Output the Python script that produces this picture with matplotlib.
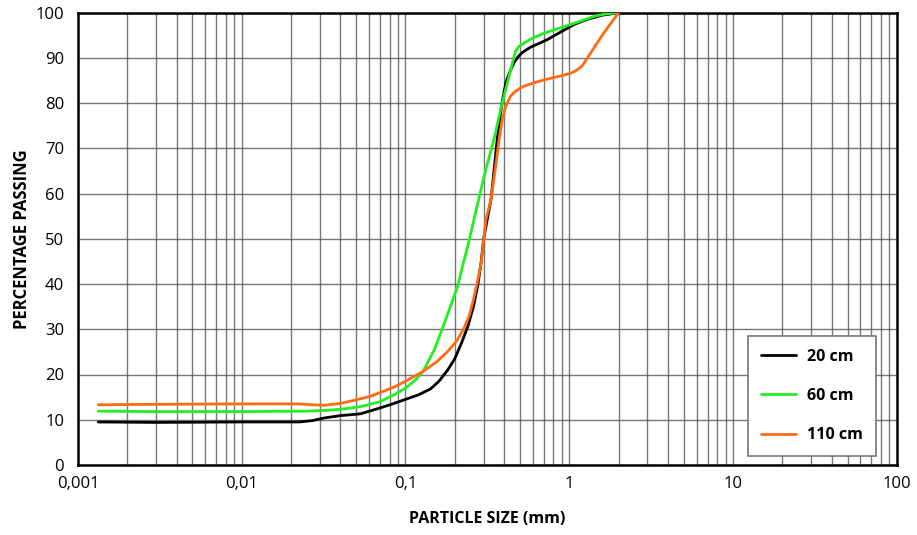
import matplotlib
matplotlib.use("Agg")
import matplotlib.pyplot as plt
from matplotlib.ticker import FixedLocator, FixedFormatter, LogLocator, NullFormatter

plt.rcParams['font.family'] = ['Open Sans', 'DejaVu Sans']

# 20 cm (black)
x20 = [0.00133, 0.003, 0.01, 0.0225, 0.027, 0.032, 0.04, 0.053, 0.07, 0.085, 0.1, 0.12,
       0.142, 0.16, 0.181, 0.2, 0.22, 0.24, 0.26, 0.277, 0.29, 0.30, 0.333, 0.367,
       0.39, 0.411, 0.44, 0.46, 0.49, 0.52, 0.58, 0.66, 0.745, 0.9, 1.08, 1.3, 1.6, 2.0]
y20 = [9.5, 9.4, 9.5, 9.5, 9.8, 10.4, 10.9, 11.3, 12.6, 13.6, 14.5, 15.5,
       16.8, 18.5, 21.0, 23.5, 27.0, 30.6, 35.0, 40.0, 45.0, 50.0, 58.8, 73.6,
       80.5, 84.7, 87.5, 89.0, 90.4, 91.3, 92.4, 93.3, 94.2, 95.9, 97.5, 98.6, 99.5, 100.0]

# 60 cm (green)
x60 = [0.00133, 0.003, 0.01, 0.025, 0.034, 0.045, 0.055, 0.07, 0.085, 0.1, 0.115, 0.128,
       0.15, 0.17, 0.19, 0.208, 0.225, 0.243, 0.26, 0.28, 0.31, 0.347, 0.38, 0.42,
       0.45, 0.47, 0.49, 0.53, 0.58, 0.7, 0.94, 1.2, 1.44, 1.7, 2.0]
y60 = [11.9, 11.8, 11.8, 11.9, 12.1, 12.5, 13.0, 14.0, 15.5, 17.0, 18.8, 20.7,
       25.5, 30.7, 35.5, 39.5, 44.5, 49.2, 53.8, 58.8, 65.5, 72.0, 78.5, 84.7,
       89.0, 91.5, 92.5, 93.3, 94.2, 95.5, 97.0, 98.3, 99.3, 99.8, 100.0]

# 110 cm (orange)
x110 = [0.00133, 0.003, 0.01, 0.022, 0.027, 0.032, 0.04, 0.05, 0.06, 0.07, 0.085, 0.1,
        0.128, 0.155, 0.181, 0.205, 0.226, 0.245, 0.26, 0.275, 0.29, 0.31, 0.333, 0.355,
        0.373, 0.39, 0.41, 0.435, 0.46, 0.5, 0.53, 0.63, 0.745, 0.9, 1.03, 1.12, 1.2,
        1.3, 1.44, 1.6, 1.82, 2.0]
y110 = [13.3, 13.4, 13.5, 13.5, 13.3, 13.2, 13.6, 14.4, 15.1, 16.0, 17.2, 18.5,
        20.7, 22.8, 25.1, 27.4, 30.0, 33.0, 36.6, 40.5, 44.8, 54.3, 58.8, 66.0,
        72.0, 76.5, 79.4, 81.4, 82.4, 83.3, 83.8, 84.7, 85.4, 86.1, 86.7, 87.4, 88.3,
        90.2, 92.7, 95.2, 98.0, 100.0]

series = [("20 cm", x20, y20, "#000000"),
          ("60 cm", x60, y60, "#22ee22"),
          ("110 cm", x110, y110, "#ff6a13")]

xticks = [0.001, 0.01, 0.1, 1, 10, 100]
xticklabels = ["0,001", "0,01", "0,1", "1", "10", "100"]
yticks = list(range(0, 101, 10))

fig = plt.figure(figsize=(9.17, 5.35), dpi=100)
ax = fig.add_axes([0.085, 0.131, 0.893, 0.845])

for label, xs, ys, c in series:
    ax.plot(xs, ys, color=c, lw=2.0, label=label, solid_capstyle='round',
            solid_joinstyle='round', zorder=3)

ax.set_xscale('log')
ax.set_xlim(0.001, 100)
ax.set_ylim(0, 100)
ax.xaxis.set_major_locator(FixedLocator(xticks))
ax.xaxis.set_major_formatter(FixedFormatter(xticklabels))
ax.xaxis.set_minor_locator(LogLocator(base=10, subs=range(2, 10), numticks=50))
ax.xaxis.set_minor_formatter(NullFormatter())
ax.set_yticks(yticks)

ax.grid(True, which='major', axis='both', color='#555555', lw=1.0, alpha=0.8)
ax.grid(True, which='minor', axis='x', color='#555555', lw=1.0, alpha=0.8)
ax.set_axisbelow(True)

ax.tick_params(axis='both', which='both', length=0, labelsize=12, pad=8)
ax.tick_params(axis='y', pad=10)

for s in ax.spines.values():
    s.set_color('#000000')
    s.set_linewidth(1.8)

ax.set_xlabel("PARTICLE SIZE (mm)", fontsize=11.5, fontweight='bold', labelpad=14)
ax.set_ylabel("PERCENTAGE PASSING", fontsize=12, fontweight='bold', labelpad=3)

leg = ax.legend(loc='lower right', bbox_to_anchor=(0.974, 0.02), frameon=True,
                fancybox=False, edgecolor='#777777', framealpha=1.0,
                prop={'weight': 'bold', 'size': 11.5}, handlelength=2.2,
                labelspacing=1.45, borderpad=0.8, handletextpad=0.7,
                borderaxespad=0.0)
leg.get_frame().set_linewidth(1.2)

fig.savefig("out.png", dpi=100)
